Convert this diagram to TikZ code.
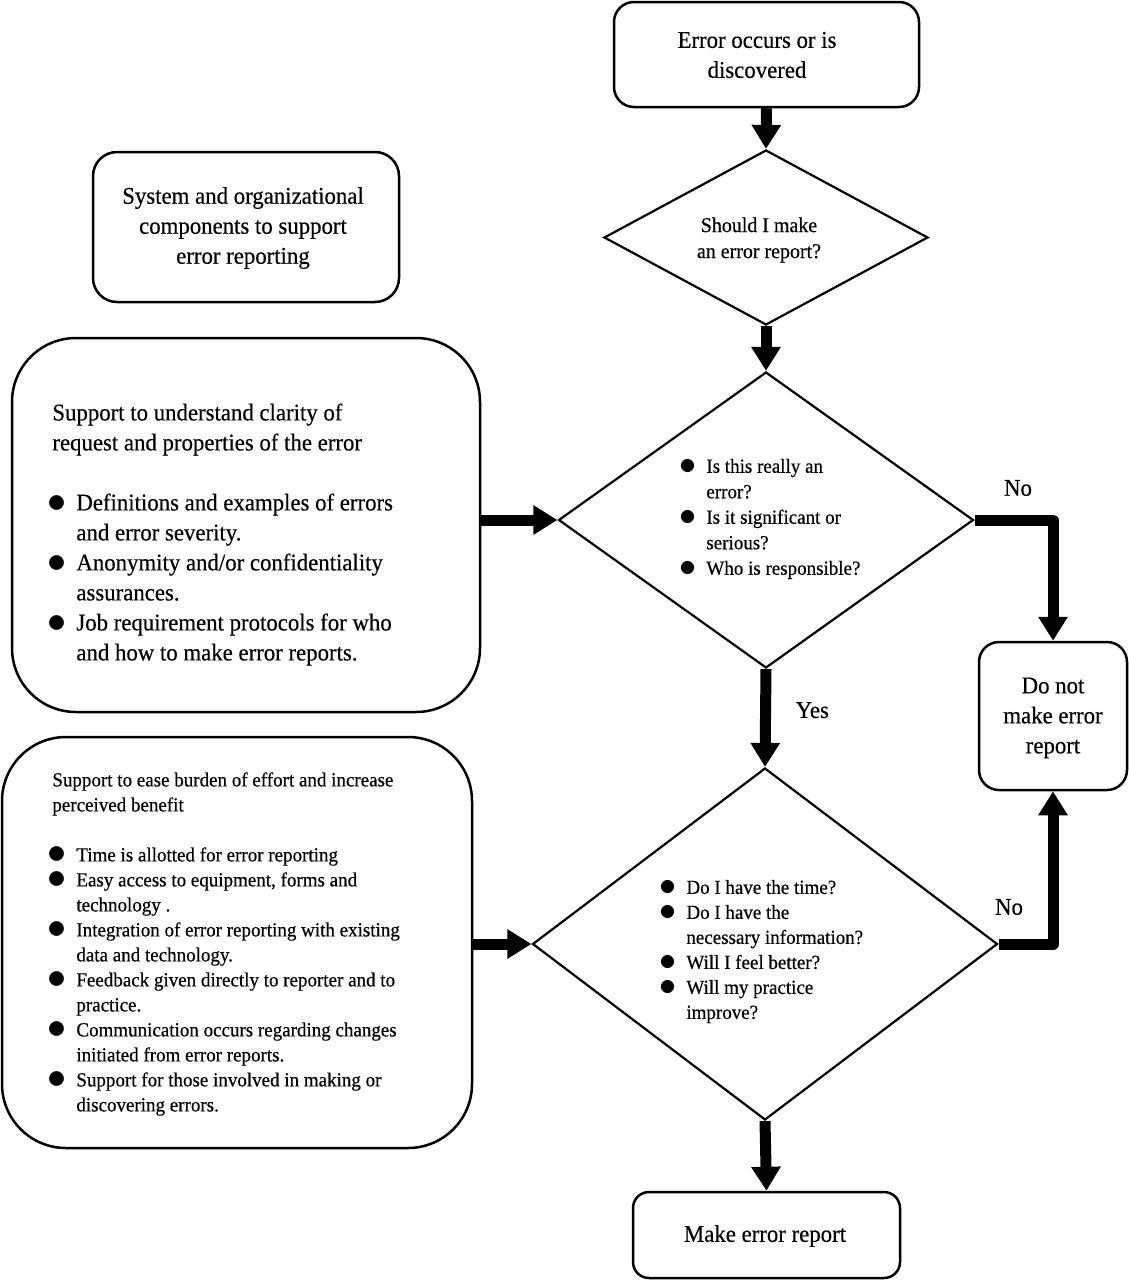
\documentclass[tikz,border=0pt]{standalone}
\usepackage{fontspec}
\setmainfont{Liberation Serif}[FakeStretch=0.95,FakeBold=0.4]
\usetikzlibrary{arrows.meta,shapes.geometric}
\newcommand\bdot{\makebox[8pt][c]{\raisebox{-1.1pt}{\fontsize{10}{12}\selectfont\scalebox{1.9}{$\bullet$}}}}
\newcommand\sdot{\makebox[7pt][c]{\raisebox{-0.9pt}{\fontsize{10}{12}\selectfont\scalebox{1.7}{$\bullet$}}}}
\newcommand\bl[1]{\makebox[12pt][l]{\hspace*{-1.5pt}\bdot}#1}
\newcommand\ind{\hspace*{12pt}}
\newcommand\dbl[1]{\makebox[12.5pt][l]{\sdot}#1}
\newcommand\dind{\hspace*{12.5pt}}
\tikzset{
  box/.style={draw, line width=1.25pt, inner sep=0pt},
  dia/.style={draw, diamond, line width=1.1pt, inner sep=0pt, aspect=1},
  txt/.style={inner sep=0pt, align=left},
  ctxt/.style={inner sep=0pt, align=center},
  big/.style={font=\fontsize{12}{15}\selectfont},
  small/.style={font=\fontsize{10}{12.5}\selectfont},
  flow/.style={line width=5.5pt, line join=round, -{Triangle[width=14pt,length=12pt]}},
}
\begin{document}
\begin{tikzpicture}[x=0.5pt,y=-0.5pt]
\useasboundingbox (0,0) rectangle (1129,1280);
% boxes
\node[box, rounded corners=10pt, minimum width=152.5pt, minimum height=52.5pt] (err) at (766.5,54.5) {};
\node[box, rounded corners=12pt, minimum width=153pt, minimum height=75pt] (sys) at (246,227) {};
\node[box, rounded corners=32pt, minimum width=234pt, minimum height=187pt] (s1) at (246,525) {};
\node[box, rounded corners=32pt, minimum width=235pt, minimum height=205.5pt] (s2) at (237,942.5) {};
\node[box, rounded corners=10pt, minimum width=74pt, minimum height=74pt] (dnm) at (1053,716) {};
\node[box, rounded corners=8pt, minimum width=133.5pt, minimum height=43pt] (mk) at (766.5,1235) {};
% diamonds
\node[dia, minimum width=162pt, minimum height=87.5pt] (d1) at (766,237.5) {};
\node[dia, minimum width=207.5pt, minimum height=148pt] (d2) at (766,520) {};
\node[dia, minimum width=232.5pt, minimum height=176pt] (d3) at (765,944) {};
% texts
\node[ctxt, big] (terr) at (757,55) {Error occurs or is\\discovered};
\node[ctxt, big] (tsys) at (243,228) {System and organizational\\components to support\\error reporting};
\node[ctxt, big] (tdnm) at (1053,718) {Do not\\make error\\report};
\node[ctxt, big] (tmk) at (765,1236) {Make error report};
\node[ctxt, font=\fontsize{10.5}{13}\selectfont] (td1) at (759,240) {Should I make\\an error report?};
\node[txt, big, anchor=north west] (ts1) at (52,399) {\strut Support to understand clarity of\\
request and properties of the error\\[15pt]
\bl{Definitions and examples of errors}\\
\ind and error severity.\\
\bl{Anonymity and/or confidentiality}\\
\ind assurances.\\
\bl{Job requirement protocols for who}\\
\ind and how to make error reports.};
\node[txt, small, anchor=north west] (ts2) at (52,768.5) {\strut Support to ease burden of effort and increase\\
perceived benefit\\[12.5pt]
\bl{Time is allotted for error reporting}\\
\bl{Easy access to equipment, forms and}\\
\ind technology .\\
\bl{Integration of error reporting with existing}\\
\ind data and technology.\\
\bl{Feedback given directly to reporter and to}\\
\ind practice.\\
\bl{Communication occurs regarding changes}\\
\ind initiated from error reports.\\
\bl{Support for those involved in making or}\\
\ind discovering errors.};
\node[txt, font=\fontsize{10}{12.75}\selectfont, anchor=north west] (td2) at (681,454.5) {\strut\dbl{Is this really an}\\
\dind error?\\
\dbl{Is it significant or}\\
\dind serious?\\
\dbl{Who is responsible?}};
\node[txt, small, anchor=north west] (td3) at (661,876) {\strut\dbl{Do I have the time?}\\
\dbl{Do I have the}\\
\dind necessary information?\\
\dbl{Will I feel better?}\\
\dbl{Will my practice}\\
\dind improve?};
% connectors
\draw[flow] (err.south) -- (d1.north);
\draw[flow] (d1.south) -- (d2.north);
\draw[flow] (d2.south) -- node[big, right=9pt, pos=0.42] (lyes) {Yes} (d3.north);
\draw[flow] (d3.south) -- (mk.north);
\draw[flow] (s1.east |- d2.west) -- (d2.west);
\draw[flow] (s2.east |- d3.west) -- (d3.west);
\draw[flow] (d2.east) -| (dnm.north);
\draw[flow] (d3.east) -| (dnm.south);
\node[big] (lno1) at (1018,488) {No};
\node[big] (lno2) at (1009,907) {No};
\end{tikzpicture}
\end{document}
